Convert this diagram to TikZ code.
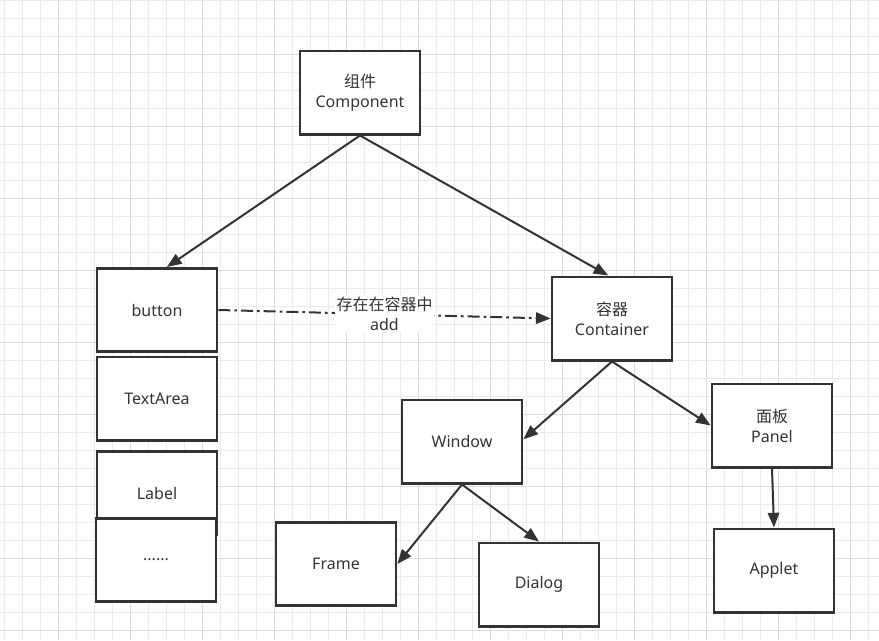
\documentclass[tikz,border=0pt]{standalone}
\usepackage{fontspec}
\setmainfont{Noto Sans}
\newfontfamily\cjk{Noto Sans CJK SC}
\usetikzlibrary{arrows.meta,positioning,calc}
\definecolor{Ink}{HTML}{333333}
\definecolor{GridMinor}{HTML}{EBEBEB}
\definecolor{GridMajor}{HTML}{DCDCDC}
\tikzset{
 box/.style={draw=Ink,line width=2pt,fill=white,minimum width=90pt,minimum height=62.5pt,align=center,font=\fontsize{12}{15}\selectfont,text=Ink,inner sep=2pt},
 arr/.style={-{Triangle[length=11pt,width=8.5pt]},line width=1.5pt,draw=Ink},
 dashdot/.style={arr,dash pattern=on 9pt off 3pt on 2pt off 3pt}
}

\begin{document}
\begin{tikzpicture}[x=0.75pt,y=-0.75pt]
\useasboundingbox (0,0) rectangle (879,640);
\fill[white] (0,0) rectangle (879,640);
\foreach \k in {0,...,48} {\draw[GridMinor,line width=.75pt] ({4+18*\k},0)--({4+18*\k},640);}
\foreach \k in {0,...,35} {\draw[GridMinor,line width=.75pt] (0,{.3+18*\k})--(879,{.3+18*\k});}
\foreach \k in {3,7,...,47} {\draw[GridMajor,line width=.75pt] ({4+18*\k},0)--({4+18*\k},640);}
\foreach \k in {3,7,...,35} {\draw[GridMajor,line width=.75pt] (0,{.3+18*\k})--(879,{.3+18*\k});}

\node[box] (comp) at (360,92.5) {{\cjk 组件}\\Component};
\node[box] (button) at (157,310) {button};
\node[box] (textarea) at (157,398.5) {TextArea};
\node[box] (label) at (157,493) {Label};
\node[box] (more) at (156,560) {......};
\node[box] (container) at (612,318.5) {{\cjk 容器}\\Container};
\node[box] (window) at (462,441.5) {Window};
\node[box] (panel) at (772,425.5) {{\cjk 面板}\\Panel};
\node[box] (frame) at (336,564) {Frame};
\node[box] (dialog) at (539,584.5) {Dialog};
\node[box] (applet) at (774,570.5) {Applet};

\draw[arr] (comp.south) -- (button.77);
\draw[arr] (comp.south) -- (container.95);
\draw[dashdot] (button.east) -- node[fill=white,align=center,text=Ink,font=\fontsize{12}{15}\selectfont,inner sep=1pt,pos=.5] (addlabel) {{\cjk 存在在容器中}\\add} (container.west);
\draw[arr] (container.south) -- (window.2);
\draw[arr] (container.south) -- (panel.west);
\draw[arr] (window.south) -- (frame.east);
\draw[arr] (window.south) -- (dialog.north);
\draw[arr] (panel.south) -- (applet.north);
\end{tikzpicture}
\end{document}
